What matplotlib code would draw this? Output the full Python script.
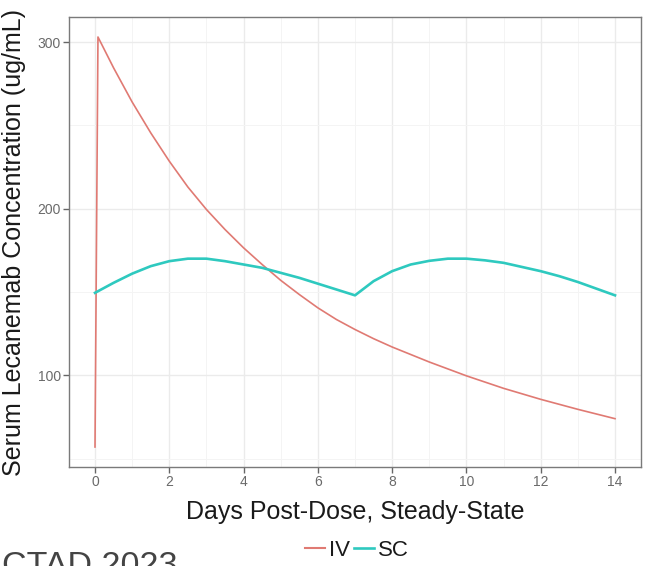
import matplotlib
matplotlib.use("Agg")
import matplotlib.pyplot as plt
from matplotlib.lines import Line2D
from matplotlib.ticker import MultipleLocator

plt.rcParams['font.family'] = ['Liberation Sans', 'DejaVu Sans']

# IV series (days, ug/mL)
iv_days = [0, 0.08, 0.5, 1, 1.5, 2, 2.5, 3, 3.5, 4, 4.5, 5, 5.5, 6, 6.5, 7, 7.5, 8, 9, 10, 11, 12, 13, 14]
iv_conc = [57, 303, 284.5, 264, 245.5, 228.5, 213, 199.5, 187.5, 176.5, 166.5, 157, 148.5, 140.5,
           133.5, 127.5, 122, 117, 108, 99.7, 92.2, 85.6, 79.6, 74]

# SC series (days, ug/mL)
sc_days = [0, 0.5, 1, 1.5, 2, 2.5, 3, 3.5, 4, 4.5, 5, 5.5, 6, 6.5, 7,
           7.5, 8, 8.5, 9, 9.5, 10, 10.5, 11, 11.5, 12, 12.5, 13, 13.5, 14]
sc_conc = [149.5, 155.5, 161, 165.5, 168.5, 170, 170, 168.5, 166.5, 164.5, 161.5, 158.5, 155, 151.5, 148,
           156.5, 162.5, 166.5, 168.7, 170, 170, 169, 167.5, 165, 162.5, 159.5, 156, 152, 148]

x_ticks = [0, 2, 4, 6, 8, 10, 12, 14]
y_ticks = [100, 200, 300]
series_labels = ['IV', 'SC']
iv_color = '#e07a73'
sc_color = '#2ec9bf'

fig = plt.figure(figsize=(6.45, 5.66), dpi=100)
ax = fig.add_axes([69/645, 1-467/566, (641-69)/645, (467-17)/566])

ax.plot(iv_days, iv_conc, color=iv_color, lw=1.2, zorder=3)
ax.plot(sc_days, sc_conc, color=sc_color, lw=1.9, zorder=3)

ax.set_xlim(-0.7, 14.7)
ax.set_ylim(45, 315)
ax.set_xticks(x_ticks)
ax.set_yticks(y_ticks)
ax.xaxis.set_minor_locator(MultipleLocator(1))
ax.yaxis.set_minor_locator(MultipleLocator(50))
ax.grid(which='major', color='#ebebeb', lw=1.0, zorder=0)
ax.grid(which='minor', color='#f4f4f4', lw=0.7, zorder=0)
ax.set_axisbelow(True)
for s in ax.spines.values():
    s.set_color('#7a7a7a')
    s.set_linewidth(1.0)
ax.tick_params(which='major', length=4, width=1, color='#666666', labelcolor='#6a6a6a',
               labelsize=10, pad=2)
ax.tick_params(which='minor', length=0)

ax.set_xlabel('Days Post-Dose, Steady-State', fontsize=18, color='#1a1a1a', labelpad=8)
ax.set_ylabel('Serum Lecanemab Concentration (ug/mL)', fontsize=18, color='#1a1a1a', labelpad=8)

handles = [Line2D([], [], color=iv_color, lw=1.5), Line2D([], [], color=sc_color, lw=1.9)]
fig.legend(handles, series_labels, loc='center', bbox_to_anchor=(357/645, 1-550/566), ncol=2,
           frameon=False, fontsize=16, handlelength=0.9, handletextpad=0.2, columnspacing=0.15,
           borderpad=0, labelcolor='#1a1a1a')

fig.text(2/645, 1-575/566, 'CTAD 2023', fontsize=24.5, color='#444444', ha='left', va='baseline')

fig.savefig('out.png', dpi=100, facecolor='white')
